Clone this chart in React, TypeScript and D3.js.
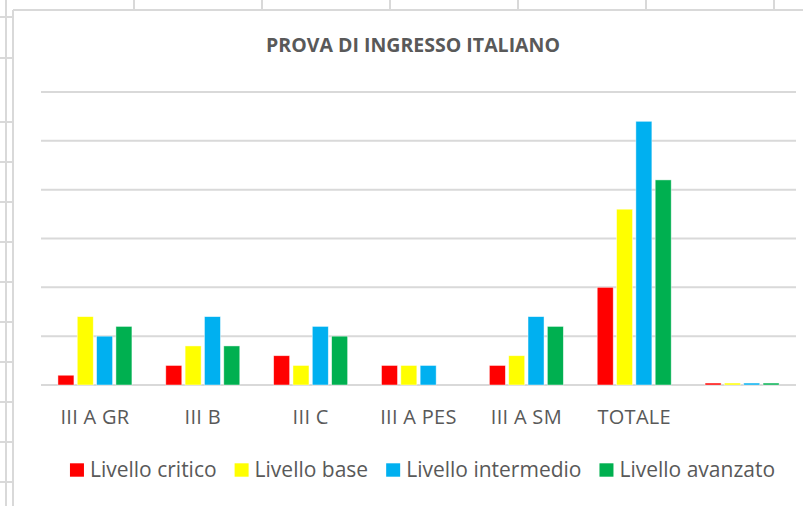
import React, { useEffect, useRef } from "react";
import * as d3 from "d3";

const categories = ["III A GR", "III B", "III C", "III A PES", "III A SM", "TOTALE", ""];
const seriesNames = ["Livello critico", "Livello base", "Livello intermedio", "Livello avanzato"];
const livelloCritico = [1, 2, 3, 2, 2, 10, 0.2];
const livelloBase = [7, 4, 2, 2, 3, 18, 0.2];
const livelloIntermedio = [5, 7, 6, 2, 7, 27, 0.2];
const livelloAvanzato = [6, 4, 5, 0, 6, 21, 0.2];
const yTicks = [0, 5, 10, 15, 20, 25, 30];
const seriesColors = ["#FF0000", "#FFFF00", "#00B0F0", "#00B050"];
const titleText = "PROVA DI INGRESSO ITALIANO";

const W = 803;
const H = 506;
const GRID = "#d9d9d9";
const TEXT = "#595959";
const FONT = "'Open Sans', 'Noto Sans', sans-serif";

export default function App() {
  const ref = useRef<SVGSVGElement | null>(null);

  useEffect(() => {
    const svg = d3.select(ref.current);
    svg.selectAll("*").remove();

    svg.append("rect").attr("width", W).attr("height", H).attr("fill", "#ffffff");

    // spreadsheet background lines
    const bg = svg.append("g").attr("stroke", GRID).attr("stroke-width", 2);
    bg.append("line").attr("x1", 6).attr("x2", 6).attr("y1", 0).attr("y2", H);
    [17, 58, 122, 162, 202, 242, 282, 322, 362, 402, 442, 482].forEach((y) => {
      bg.append("line").attr("x1", 0).attr("x2", 13).attr("y1", y).attr("y2", y);
    });
    [134, 262, 390, 518, 646, 774].forEach((x) => {
      bg.append("line").attr("x1", x).attr("x2", x).attr("y1", 0).attr("y2", 10);
    });
    // chart area border
    bg.append("line").attr("x1", 13).attr("x2", W + 2).attr("y1", 10).attr("y2", 10);
    bg.append("line").attr("x1", 13).attr("x2", 13).attr("y1", 10).attr("y2", H + 2);

    // title
    svg
      .append("text")
      .attr("x", 413)
      .attr("y", 51.7)
      .attr("text-anchor", "middle")
      .attr("font-family", FONT)
      .attr("font-weight", "bold")
      .attr("font-size", 19.5)
      .attr("fill", TEXT)
      .attr("textLength", 294)
      .attr("lengthAdjust", "spacingAndGlyphs")
      .text(titleText);

    const x0 = d3
      .scaleBand<string>()
      .domain(categories.map((c, i) => String(i)))
      .range([41, 796])
      .paddingInner(0.314)
      .paddingOuter(0.157);
    const x1 = d3
      .scaleBand<string>()
      .domain(seriesNames)
      .range([0, x0.bandwidth()])
      .paddingInner(0.172)
      .paddingOuter(0);
    const y = d3.scaleLinear().domain([0, 30]).range([385, 92]);

    // gridlines
    svg
      .append("g")
      .selectAll("line")
      .data(yTicks)
      .join("line")
      .attr("x1", 41)
      .attr("x2", 796)
      .attr("y1", (d) => y(d))
      .attr("y2", (d) => y(d))
      .attr("stroke", GRID)
      .attr("stroke-width", 2);

    const seriesValues = [livelloCritico, livelloBase, livelloIntermedio, livelloAvanzato];
    const bars = svg.append("g");
    seriesNames.forEach((name, si) => {
      bars
        .append("g")
        .selectAll("rect")
        .data(seriesValues[si].map((v, ci) => ({ v, ci })).filter((d) => d.v > 0))
        .join("rect")
        .attr("x", (d) => (x0(String(d.ci)) as number) + (x1(name) as number))
        .attr("width", x1.bandwidth())
        .attr("y", (d) => y(d.v))
        .attr("height", (d) => y(0) - y(d.v))
        .attr("fill", seriesColors[si])
        .attr("stroke", "#ffffff")
        .attr("stroke-opacity", 0.6)
        .attr("stroke-width", 0.75);
    });

    // category labels
    svg
      .append("g")
      .selectAll("text")
      .data(categories)
      .join("text")
      .attr("x", (d, i) => (x0(String(i)) as number) + x0.bandwidth() / 2)
      .attr("y", 424)
      .attr("text-anchor", "middle")
      .attr("font-family", FONT)
      .attr("font-size", 20)
      .attr("letter-spacing", 0.3)
      .attr("fill", TEXT)
      .text((d) => d);

    // legend
    const legend = svg.append("g");
    const items = seriesNames.map((name, i) => {
      const g = legend.append("g");
      g.append("rect")
        .attr("x", 0)
        .attr("y", 463.3)
        .attr("width", 14)
        .attr("height", 13.4)
        .attr("fill", seriesColors[i]);
      const t = g
        .append("text")
        .attr("x", 20)
        .attr("y", 477)
        .attr("font-family", FONT)
        .attr("font-size", 21)
        .attr("fill", TEXT)
        .text(name);
      const w = (t.node() as SVGTextElement).getComputedTextLength();
      return { g, w: 20 + w };
    });
    const gap = 18;
    const total = items.reduce((s, it) => s + it.w, 0) + gap * (items.length - 1);
    let cx = 422.5 - total / 2;
    items.forEach((it) => {
      it.g.attr("transform", `translate(${cx},0)`);
      cx += it.w + gap;
    });
  }, []);

  return (
    <svg
      ref={ref}
      width={W}
      height={H}
      style={{ position: "absolute", left: 0, top: 0, display: "block" }}
    />
  );
}
